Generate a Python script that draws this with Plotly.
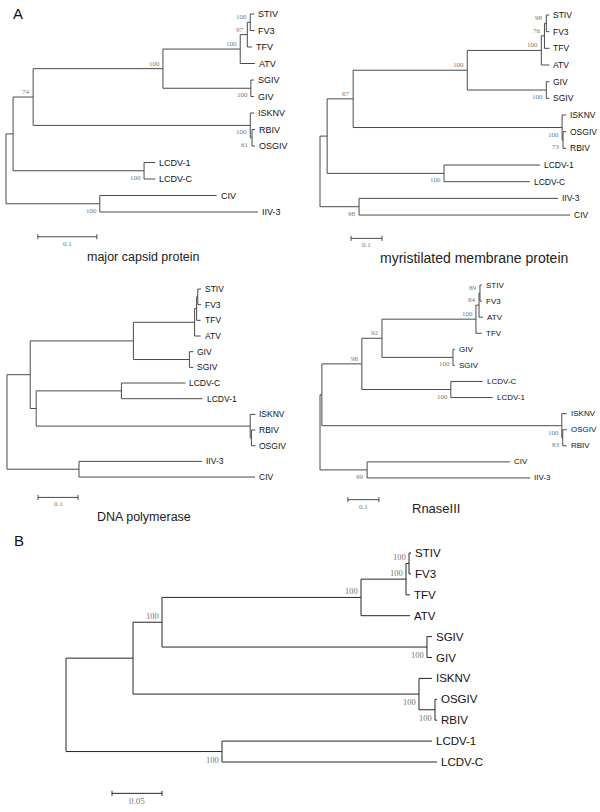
import plotly.graph_objects as go

W, H = 600, 812

# Trees as Newick strings; branch lengths.
# Internal labels: "a" = bootstrap drawn above the branch, "b" = below.
capsid_tree = ("(((((((STIV:0.007,FV3:0.007)a100:0.005,TFV:0.008)a97:0.012,ATV:0.025)a100:0.131,"
               "(SGIV:0.005,GIV:0.005)b100:0.149)a100:0.220,"
               "(ISKNV:0.007,(RBIV:0.005,OSGIV:0.005)b61:0.003)b100:0.368)a74:0.034,"
               "(LCDV-1:0.019,LCDV-C:0.019)b100:0.222):0.012,"
               "(CIV:0.198,IIV-3:0.268)b100:0.159);")
membrane_tree = ("(((((((STIV:0.010,FV3:0.010)a98:0.006,TFV:0.016)a76:0.010,ATV:0.026)a100:0.239,"
                 "(GIV:0.010,SGIV:0.010)b100:0.255)a100:0.368,"
                 "(ISKNV:0.013,(OSGIV:0.010,RBIV:0.010)b73:0.003)b100:0.674)a67:0.084,"
                 "(LCDV-1:0.310,LCDV-C:0.277)b100:0.377):0.023,"
                 "(IIV-3:0.642,CIV:0.681)b98:0.126);")
polymerase_tree = ("((((((STIV:0.008,FV3:0.008):0.003,TFV:0.010):0.005,ATV:0.015):0.153,"
                   "(GIV:0.010,SGIV:0.010):0.140):0.258,"
                   "((LCDV-C:0.160,LCDV-1:0.203):0.213,"
                   "(ISKNV:0.013,(RBIV:0.010,OSGIV:0.010):0.003):0.535):0.015):0.058,"
                   "(IIV-3:0.308,CIV:0.440):0.180);")
rnase_tree = ("(((((((STIV:0.006,FV3:0.006)a89:0.003,ATV:0.013)a84:0.010,TFV:0.019)a100:0.303,"
              "(GIV:0.006,SGIV:0.006)b100:0.229)a92:0.065,"
              "(LCDV-C:0.103,LCDV-1:0.135)b100:0.287)a98:0.129,"
              "(ISKNV:0.016,(OSGIV:0.013,RBIV:0.013)b83:0.003)b100:0.774):0.006,"
              "(CIV:0.461,IIV-3:0.526)b99:0.152);")
concat_tree = ("((((((STIV:0.002,FV3:0.002)a100:0.003,TFV:0.004)a100:0.045,ATV:0.049)a100:0.199,"
               "(SGIV:0.005,GIV:0.005)b100:0.265)a100:0.029,"
               "(ISKNV:0.013,(OSGIV:0.002,RBIV:0.002)b100:0.016)b100:0.286):0.067,"
               "(LCDV-1:0.210,LCDV-C:0.215)b100:0.156);")

titles = ["major capsid protein", "myristilated membrane protein", "DNA polymerase", "RnaseIII", ""]
scale_lengths = [0.1, 0.1, 0.1, 0.1, 0.05]
scale_labels = ["0.1", "0.1", "0.1", "0.1", "0.05"]

# panel placement (pixels) and styling
panels = [
    dict(box=(0, 300, 0, 270), root=6, ppu=590, y0=14, sp=16.5, leaf=9, boot=7, bar=(0.054, 13.5),
         title=(143, 257, 12.5), sc=7, lc="#4a4a4a"),
    dict(box=(300, 600, 0, 270), root=320, ppu=310, y0=15, sp=16.67, leaf=8.5, boot=7, bar=(0.10, 13.4),
         title=(474, 258, 14), sc=7, lc="#4a4a4a"),
    dict(box=(0, 300, 270, 540), root=7, ppu=400, y0=289, sp=15.67, leaf=8.5, boot=7, bar=(0.0775, 13.3),
         title=(144, 517, 12.5), sc=7, lc="#4a4a4a"),
    dict(box=(300, 600, 270, 540), root=320, ppu=310, y0=285, sp=16.08, leaf=8, boot=7, bar=(0.09, 13.35),
         title=(436, 508, 13), sc=7, lc="#4a4a4a"),
    dict(box=(0, 600, 540, 812), root=66, ppu=1000, y0=553, sp=20.9, leaf=11.5, boot=8.5, bar=(0.046, 11.5),
         title=(300, 800, 12), sc=9, lc="#262626"),
]
trees = [capsid_tree, membrane_tree, polymerase_tree, rnase_tree, concat_tree]


def parse_newick(s):
    pos = 0

    def node():
        nonlocal pos
        children = []
        if s[pos] == "(":
            pos += 1
            children.append(node())
            while s[pos] == ",":
                pos += 1
                children.append(node())
            pos += 1
        start = pos
        while s[pos] not in ":,);":
            pos += 1
        name = s[start:pos]
        length = 0.0
        if s[pos] == ":":
            pos += 1
            start = pos
            while s[pos] not in ",);":
                pos += 1
            length = float(s[start:pos])
        return {"name": name, "len": length, "children": children}

    return node()


def place(tree):
    leaves, internals = [], []

    def walk(n, x):
        n["x"] = x + n["len"]
        if n["children"]:
            for c in n["children"]:
                walk(c, n["x"])
            n["y"] = (n["children"][0]["y"] + n["children"][-1]["y"]) / 2
            internals.append(n)
        else:
            n["y"] = len(leaves)
            leaves.append(n)

    walk(tree, 0.0)
    return leaves, internals


fig = go.Figure()
annotations = []

for k, (newick, p) in enumerate(zip(trees, panels), start=1):
    xa = "x" if k == 1 else f"x{k}"
    ya = "y" if k == 1 else f"y{k}"
    leaves, internals = place(parse_newick(newick))

    xs, ys = [], []
    for n in internals:
        xs += [n["x"], n["x"], None]
        ys += [n["children"][0]["y"], n["children"][-1]["y"], None]
        for c in n["children"]:
            xs += [n["x"], c["x"], None]
            ys += [c["y"], c["y"], None]
    # scale bar
    bx, by = p["bar"]
    tick = 2.5 / p["sp"]
    L = scale_lengths[k - 1]
    xs += [bx, bx + L, None, bx, bx, None, bx + L, bx + L, None]
    ys += [by, by, None, by - tick, by + tick, None, by - tick, by + tick, None]
    fig.add_trace(go.Scatter(x=xs, y=ys, mode="lines", xaxis=xa, yaxis=ya,
                             line={"color": p["lc"], "width": 1}, hoverinfo="skip",
                             showlegend=False))

    for n in leaves:
        annotations.append(dict(x=n["x"], y=n["y"], xref=xa, yref=ya, text=n["name"],
                                showarrow=False, xanchor="left", yanchor="middle", xshift=2,
                                font={"family": "Liberation Sans, Arial", "size": p["leaf"],
                                      "color": "#111"}))
    for n in internals:
        lab = n["name"]
        if not lab:
            continue
        above = lab[0] == "a"
        annotations.append(dict(x=n["x"], y=n["y"], xref=xa, yref=ya, text=lab[1:],
                                showarrow=False, xanchor="right",
                                yanchor="bottom" if above else "top",
                                xshift=-1, yshift=-1,
                                font={"family": "Liberation Serif, Times New Roman",
                                      "size": p["boot"], "color": "#777"}))
    annotations.append(dict(x=bx + L / 2, y=by, xref=xa, yref=ya, text=scale_labels[k - 1],
                            showarrow=False, xanchor="center", yanchor="top", yshift=-1,
                            font={"family": "Liberation Serif, Times New Roman",
                                  "size": p["sc"], "color": "#777"}))
    tx, ty, ts = p["title"]
    if titles[k - 1]:
        annotations.append(dict(x=tx / W, y=1 - ty / H, xref="paper", yref="paper",
                                text=titles[k - 1], showarrow=False, xanchor="center",
                                yanchor="middle",
                                font={"family": "Liberation Sans, Arial", "size": ts,
                                      "color": "#222"}))

    X0, X1, Y0, Y1 = p["box"]
    fig.update_layout({
        ("xaxis" if k == 1 else f"xaxis{k}"): dict(
            domain=[X0 / W, X1 / W], range=[(X0 - p["root"]) / p["ppu"], (X1 - p["root"]) / p["ppu"]],
            visible=False, anchor=ya),
        ("yaxis" if k == 1 else f"yaxis{k}"): dict(
            domain=[1 - Y1 / H, 1 - Y0 / H], range=[(Y1 - p["y0"]) / p["sp"], (Y0 - p["y0"]) / p["sp"]],
            visible=False, anchor=xa),
    })

for letter, px, py in [("A", 18, 13), ("B", 19, 540)]:
    annotations.append(dict(x=px / W, y=1 - py / H, xref="paper", yref="paper", text=letter,
                            showarrow=False, xanchor="center", yanchor="middle",
                            font={"family": "Liberation Sans, Arial", "size": 15, "color": "#111"}))

fig.update_layout(
    width=W, height=H,
    margin={"l": 0, "r": 0, "t": 0, "b": 0},
    paper_bgcolor="white", plot_bgcolor="rgba(0,0,0,0)",
    annotations=annotations,
)

# drop the default page margin so the 600x812 figure fills the window exactly
fig.write_html("out.html", config={"displayModeBar": False, "staticPlot": True},
               post_script="document.body.style.margin='0';document.body.style.overflow='hidden';")
